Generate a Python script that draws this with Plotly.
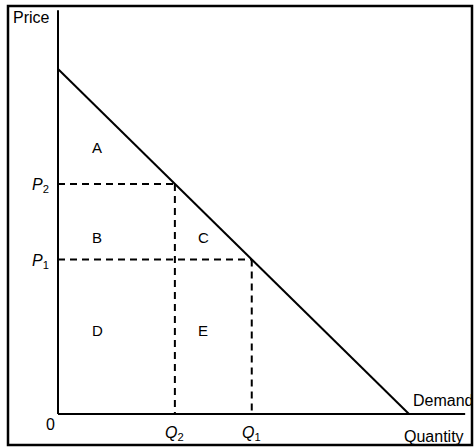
import plotly.graph_objects as go

# Economic data (units: price and quantity on a 0-100 scale)
demand_q = [0, 100]          # quantity at price intercept / quantity intercept
demand_p = [100, 0]
price_levels = [66.7, 44.8]  # P2, P1
price_names = ["<i>P</i><sub>2</sub>", "<i>P</i><sub>1</sub>"]
qty_levels = [33.3, 55.2]    # Q2, Q1
qty_names = ["<i>Q</i><sub>2</sub>", "<i>Q</i><sub>1</sub>"]
area_names = ["A", "B", "C", "D", "E"]

# axis extents
x_axis_end = 116
y_axis_end = 117

# px-to-data scale helpers (layout only)
px_q = 3.51
px_p = 3.45
ox, oy = 58, 414
def qx(px): return (px - ox) / px_q
def py(pyv): return (oy - pyv) / px_p

fig = go.Figure()
line = dict(color="black", width=2)

# axes
fig.add_trace(go.Scatter(x=[0, 0], y=[y_axis_end, 0], mode="lines", line=line, hoverinfo="skip"))
fig.add_trace(go.Scatter(x=[0, x_axis_end], y=[0, 0], mode="lines", line=line, hoverinfo="skip"))
# demand
fig.add_trace(go.Scatter(x=demand_q, y=demand_p, mode="lines", line=line, hoverinfo="skip"))
# dashed guides
dash = dict(color="black", width=2, dash="7px,5px")
for p, q in zip(price_levels, qty_levels):
    fig.add_trace(go.Scatter(x=[0, q], y=[p, p], mode="lines", line=dash, hoverinfo="skip"))
    fig.add_trace(go.Scatter(x=[q, q], y=[p, 0], mode="lines", line=dash, hoverinfo="skip"))

fam = "Liberation Sans, Arial"
font = dict(family=fam, size=15, color="black")
font_lab = dict(family=fam, size=16, color="black")
ann = []
# area labels
area_pos = [(97, 147), (97, 237), (203, 237), (97, 330), (203, 330)]
for name, (px, pyv) in zip(area_names, area_pos):
    ann.append(dict(x=qx(px), y=py(pyv), text=name, showarrow=False, font=font,
                    xref="x", yref="y"))
for p, name in zip(price_levels, price_names):
    ann.append(dict(x=qx(51), y=p, text=name, showarrow=False, font=font_lab,
                    xref="x", yref="y", xanchor="right", yshift=-2))
for q, name in zip(qty_levels, qty_names):
    ann.append(dict(x=q, y=py(433), text=name, showarrow=False, font=font_lab,
                    xref="x", yref="y"))
ann.append(dict(x=qx(50), y=py(424), text="0", showarrow=False, font=font_lab, xref="x", yref="y"))
ann.append(dict(x=qx(31), y=py(17), text="Price", showarrow=False, font=font_lab, xref="x", yref="y"))
ann.append(dict(x=qx(434), y=py(436), text="Quantity", showarrow=False, font=font_lab, xref="x", yref="y"))
ann.append(dict(x=qx(443), y=py(400), text="Demand", showarrow=False, font=font_lab, xref="x", yref="y"))

fig.update_layout(
    width=474, height=447,
    margin=dict(l=8, r=2, t=6, b=2),
    paper_bgcolor="white", plot_bgcolor="white",
    showlegend=False,
    annotations=ann,
    xaxis=dict(range=[qx(8), qx(472)], visible=False, fixedrange=True),
    yaxis=dict(range=[py(445), py(6)], visible=False, fixedrange=True),
    shapes=[dict(type="rect", xref="paper", yref="paper", x0=0, x1=1, y0=0, y1=1,
                 line=dict(color="black", width=2.5))],
)
fig.write_html("out.html", config={"displayModeBar": False},
               post_script="document.body.style.margin='0';document.body.style.overflow='hidden';")
